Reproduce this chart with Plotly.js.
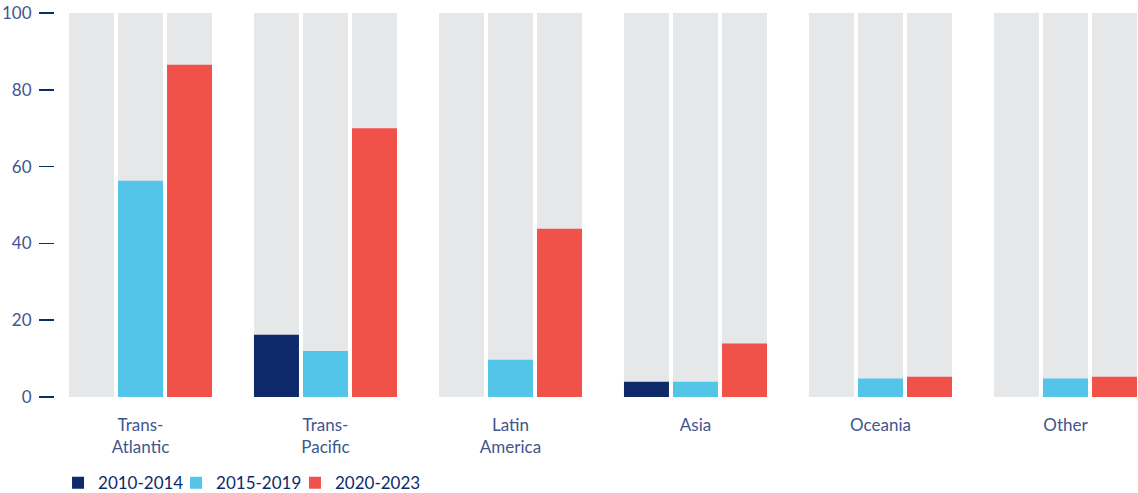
<!DOCTYPE html>
<html>
<head>
<meta charset="utf-8">
<script src="https://cdn.plot.ly/plotly-3.0.1.min.js"></script>
<style>html,body{margin:0;padding:0;background:#fff;}#chart{width:1138px;height:493px;}</style>
</head>
<body>
<div id="chart"></div>
<script>
const categories = ["Trans-<br>Atlantic", "Trans-<br>Pacific", "Latin<br>America", "Asia", "Oceania", "Other"];
const seriesNames = ["2010-2014", "2015-2019", "2020-2023"];
const s2010 = [0, 16.2, 0, 4.0, 0, 0];
const s2015 = [56.3, 12.0, 9.7, 4.0, 4.8, 4.8];
const s2020 = [86.5, 70.0, 43.8, 13.9, 5.3, 5.3];
const fullScale = [100, 100, 100, 100, 100, 100];
const colors = ["#0e2a6b", "#53c5e8", "#f0524a"];
const greyColor = "#e6e7e9";
const yTicks = [0, 20, 40, 60, 80, 100];

const seriesValues = [s2010, s2015, s2020];
const legendIds = ["legend", "legend2", "legend3"];
const legendX = [0.0510, 0.1547, 0.2592];
const traces = [];
seriesNames.forEach((n, i) => {
  traces.push({
    type: "bar", x: categories, y: fullScale, xaxis: "x", yaxis: "y",
    marker: {color: greyColor}, showlegend: false, hoverinfo: "skip", name: n + " bg"
  });
});
seriesNames.forEach((n, i) => {
  traces.push({
    type: "bar", x: categories, y: seriesValues[i], xaxis: "x2", yaxis: "y",
    marker: {color: colors[i]}, name: n, legend: legendIds[i]
  });
});

const xr = [-0.4622, 5.392];
const layout = {
  width: 1138, height: 493,
  margin: {l: 55, r: 0, t: 13, b: 96},
  paper_bgcolor: "#fff", plot_bgcolor: "#fff",
  barmode: "group", bargap: 0.205, bargroupgap: 0.082,
  font: {family: "Lato, 'Open Sans', sans-serif", size: 17, color: "#41558e"},
  xaxis: {
    type: "category", range: xr, showgrid: false, zeroline: false, showline: false,
    ticks: "", ticklabelstandoff: 16, tickfont: {size: 17, color: "#41558e"}
  },
  xaxis2: {
    type: "category", range: xr, overlaying: "x", showgrid: false, zeroline: false,
    showline: false, showticklabels: false, ticks: ""
  },
  yaxis: {
    range: [0, 100], tickvals: yTicks, ticks: "outside", ticklen: 15, tickwidth: 1.5,
    tickcolor: "#0e2a6b", showgrid: false, zeroline: false, showline: false,
    ticklabelstandoff: 4, tickfont: {size: 17, color: "#41558e"}
  },
  showlegend: true
};
legendIds.forEach((id, i) => {
  layout[id] = {
    orientation: "h", xref: "container", yref: "container",
    x: legendX[i], y: 0.02, xanchor: "left", yanchor: "middle",
    font: {size: 17, color: "#0e2a6b"}, itemwidth: 30, bgcolor: "rgba(0,0,0,0)"
  };
});
Plotly.newPlot("chart", traces, layout, {displayModeBar: false, staticPlot: true});
</script>
</body>
</html>
